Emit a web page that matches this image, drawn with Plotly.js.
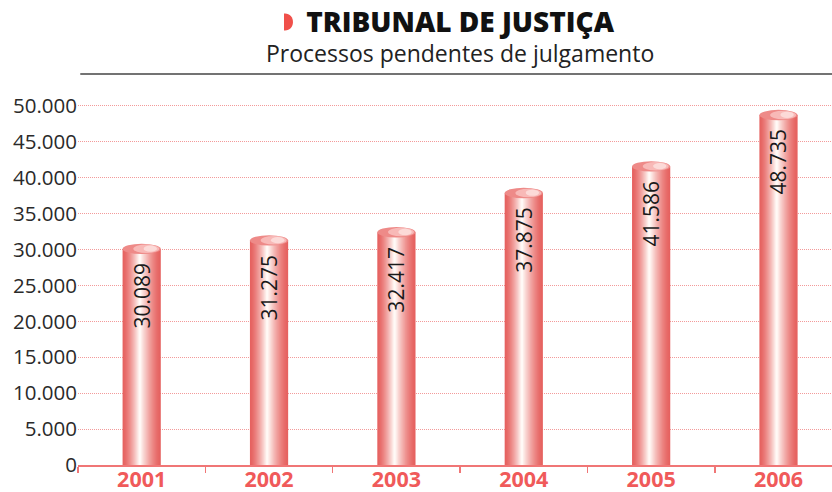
<!DOCTYPE html>
<html>
<head>
<meta charset="utf-8">
<script src="https://cdn.plot.ly/plotly-3.0.1.min.js"></script>
<style>html,body{margin:0;padding:0;background:#fff;}#chart{width:832px;height:492px;}</style>
</head>
<body>
<div id="chart"></div>
<script>
// ---- data ----
const years = ['2001', '2002', '2003', '2004', '2005', '2006'];
const pendentes = [30089, 31275, 32417, 37875, 41586, 48735];
const yTickVals = [0, 5000, 10000, 15000, 20000, 25000, 30000, 35000, 40000, 45000, 50000];
const titleText = 'TRIBUNAL DE JUSTIÇA';
const subtitleText = 'Processos pendentes de julgamento';

// ---- style ----
const W = 0.3;          // bar width in category units
const N = 18;           // gradient layers
const edge = [230, 98, 96];
const light = [255, 249, 246];
const peak = 0.45;

function fmt(v) {
  return String(v).replace(/\B(?=(\d{3})+(?!\d))/g, '.');
}
function mix(a, b, t) {
  return 'rgb(' + a.map((c, i) => Math.round(c + (b[i] - c) * t)).join(',') + ')';
}

const traces = [];
for (let k = 0; k < N; k++) {
  const L = -W / 2 + k * (peak * W / N);
  const R = W / 2 - k * ((1 - peak) * W / N);
  const t = Math.pow(k / (N - 1), 1.4);
  traces.push({
    type: 'bar', x: years, y: pendentes,
    width: R - L, offset: L,
    marker: { color: mix(edge, light, t), line: { width: 0 } },
    hoverinfo: 'skip', showlegend: false
  });
}

const capHalf = 720;
const shapes = [];
pendentes.forEach((v, i) => {
  shapes.push({ type: 'circle', xref: 'x', yref: 'y', x0: i - W / 2, x1: i + W / 2,
    y0: v - capHalf, y1: v + capHalf, fillcolor: '#ee8a88', line: { width: 0 }, layer: 'above' });
  shapes.push({ type: 'circle', xref: 'x', yref: 'y', x0: i - W * 0.22, x1: i + W * 0.46,
    y0: v - capHalf * 0.8, y1: v + capHalf * 0.85, fillcolor: 'rgba(248,190,188,0.9)', line: { width: 0 }, layer: 'above' });
  shapes.push({ type: 'circle', xref: 'x', yref: 'y', x0: i + W * 0.05, x1: i + W * 0.4,
    y0: v - capHalf * 0.55, y1: v + capHalf * 0.65, fillcolor: 'rgba(252,222,220,0.9)', line: { width: 0 }, layer: 'above' });
});
// top rule
shapes.push({ type: 'line', xref: 'paper', yref: 'paper', x0: 0.003, x1: 1, y0: 1, y1: 1,
  line: { color: '#454545', width: 1.6 } });
// red half-circle bullet
shapes.push({ type: 'path', xref: 'paper', yref: 'paper', xsizemode: 'pixel', ysizemode: 'pixel',
  xanchor: 0.2745, yanchor: 1.133,
  path: 'M -1,-8.5 L 0,-8.5 C 5,-8.5 8,-4.7 8,0 C 8,4.7 5,8.5 0,8.5 L -1,8.5 Z',
  fillcolor: '#f0504a', line: { width: 0 } });

const annotations = pendentes.map((v, i) => ({
  x: i, y: v, xref: 'x', yref: 'y', text: fmt(v), showarrow: false,
  textangle: -90, yanchor: 'top', xanchor: 'center', yshift: -12,
  font: { family: 'Open Sans, Noto Sans, sans-serif', size: 21, color: '#1a1a1a' }
}));
annotations.push({
  x: 0.5066, y: 1.0985, xref: 'paper', yref: 'paper',
  text: '<span style="font-size:28px;font-weight:800;color:#111">' + titleText + '</span><br>' + subtitleText,
  showarrow: false, xanchor: 'center', yanchor: 'middle', align: 'center',
  font: { family: 'Open Sans, Noto Sans, sans-serif', size: 23, color: '#222' }
});

const layout = {
  width: 832, height: 492,
  margin: { l: 78, r: 0, t: 74, b: 27, pad: 0 },
  paper_bgcolor: '#fff', plot_bgcolor: '#fff',
  barmode: 'overlay',
  separators: ',.',
  showlegend: false,
  xaxis: {
    type: 'category', range: [-0.5, 5.42],
    showline: true, linecolor: '#f07676', linewidth: 1.6,
    ticks: 'outside', tickson: 'boundaries', ticklen: 6, tickcolor: '#f07676', tickwidth: 1.4,
    ticklabelstandoff: -5,
    showgrid: false, zeroline: false,
    tickfont: { family: 'Open Sans, Noto Sans, sans-serif', size: 21.5, color: '#f05a5a', weight: 'bold' }
  },
  yaxis: {
    range: [0, 54450], tickvals: yTickVals, tickformat: ',d',
    showgrid: true, gridcolor: '#f39a9a', griddash: '1px,1px', gridwidth: 1,
    zeroline: false, showline: false, ticks: '',
    tickfont: { family: 'Open Sans, Noto Sans, sans-serif', size: 20.5, color: '#2a2a2a' }
  },
  shapes: shapes,
  annotations: annotations
};

Plotly.newPlot('chart', traces, layout, { staticPlot: true, displayModeBar: false });
</script>
</body>
</html>
